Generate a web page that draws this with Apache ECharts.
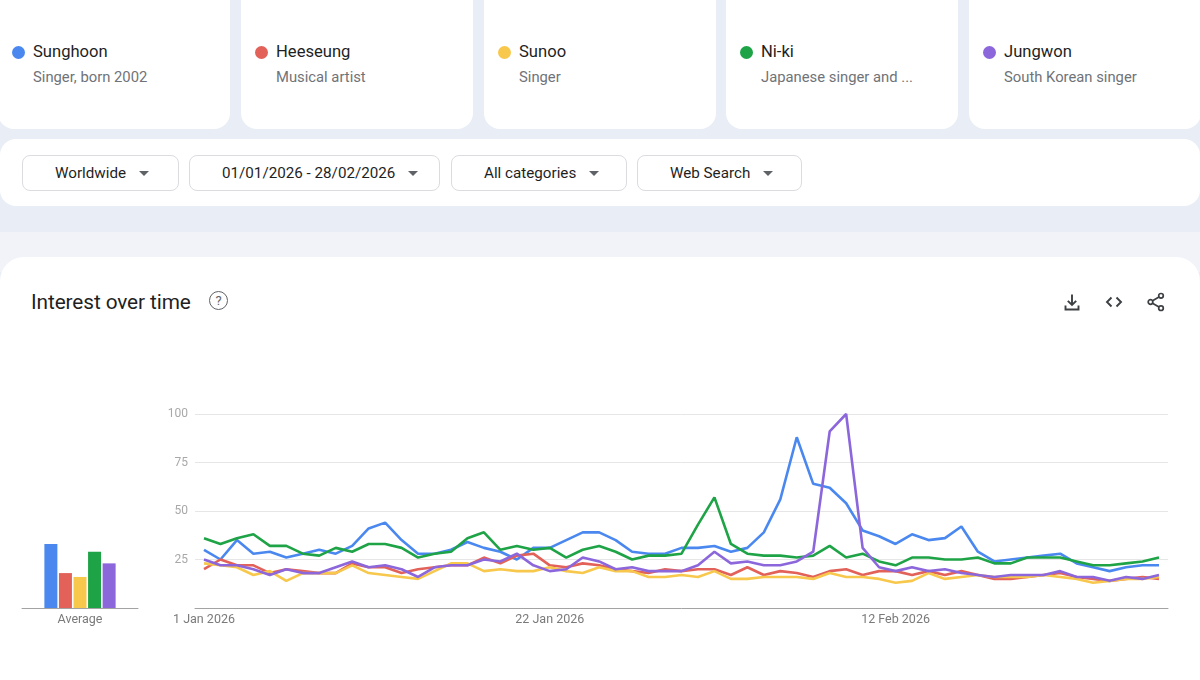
<!DOCTYPE html>
<html>
<head>
<meta charset="utf-8">
<script src="https://cdn.jsdelivr.net/npm/echarts@6/dist/echarts.min.js"></script>
<style>
  html,body{margin:0;padding:0;}
  body{width:1200px;height:680px;overflow:hidden;background:#e9eef6;position:relative;font-family:Roboto,"Noto Sans",Arial,sans-serif;}
  .card{position:absolute;top:-20px;height:149px;width:232px;background:#fff;border-radius:16px;}
  .dot{position:absolute;left:13.5px;top:65.5px;width:13px;height:13px;border-radius:50%;}
  .name{position:absolute;left:35px;top:61px;font-size:16.6px;line-height:22px;color:#1f1f1f;white-space:nowrap;}
  .sub{position:absolute;left:35px;top:87px;font-size:14.8px;line-height:20px;color:#6f7378;white-space:nowrap;}
  .panel{position:absolute;left:0;top:139px;width:1200px;height:67px;background:#fff;border-radius:16px;}
  .dd{position:absolute;top:155px;height:36px;box-sizing:border-box;border:1px solid #dadce0;border-radius:8px;background:#fff;display:flex;align-items:center;padding-left:32px;font-size:15.2px;color:#1f1f1f;white-space:nowrap;}
  .arr{display:inline-block;width:0;height:0;border-left:5px solid transparent;border-right:5px solid transparent;border-top:5px solid #5f6368;margin-left:13px;}
  .band2{position:absolute;left:0;top:232px;width:1200px;height:40px;background:#f1f3f8;}
  .main{position:absolute;left:0;top:257px;width:1200px;height:460px;background:#fff;border-radius:24px;}
  .title{position:absolute;left:31px;top:289px;font-size:20.8px;line-height:26px;color:#1f1f1f;letter-spacing:-0.1px;}
  .q{position:absolute;left:209px;top:291px;width:17px;height:17px;border:1.6px solid #5f6368;border-radius:50%;font-size:13px;line-height:17px;text-align:center;color:#5f6368;}
  .ic{position:absolute;top:292px;width:20px;height:20px;}
  #chart{position:absolute;left:0;top:380px;width:1200px;height:300px;}
</style>
</head>
<body>
<div class="card" style="left:-2px"><div class="dot" style="background:#4a88f0"></div><div class="name">Sunghoon</div><div class="sub">Singer, born 2002</div></div>
<div class="card" style="left:241px"><div class="dot" style="background:#e2625a"></div><div class="name">Heeseung</div><div class="sub">Musical artist</div></div>
<div class="card" style="left:484px"><div class="dot" style="background:#f7c84c"></div><div class="name">Sunoo</div><div class="sub">Singer</div></div>
<div class="card" style="left:726px"><div class="dot" style="background:#1fa347"></div><div class="name">Ni-ki</div><div class="sub">Japanese singer and ...</div></div>
<div class="card" style="left:969px"><div class="dot" style="background:#8c67dc"></div><div class="name">Jungwon</div><div class="sub">South Korean singer</div></div>

<div class="panel"></div>
<div class="dd" style="left:22px;width:157px">Worldwide<span class="arr"></span></div>
<div class="dd" style="left:189px;width:251px">01/01/2026 - 28/02/2026<span class="arr"></span></div>
<div class="dd" style="left:451px;width:176px">All categories<span class="arr"></span></div>
<div class="dd" style="left:637px;width:165px">Web Search<span class="arr"></span></div>

<div class="band2"></div>
<div class="main"></div>
<div class="title">Interest over time</div>
<div class="q">?</div>
<svg class="ic" style="left:1062px" viewBox="0 0 20 20" fill="none" stroke="#3c4043" stroke-width="1.9"><path d="M10 2.5v10.5M5.8 8.8L10 13l4.2-4.2M3.5 13.5v4h13v-4"/></svg>
<svg class="ic" style="left:1104px" viewBox="0 0 20 20" fill="none" stroke="#3c4043" stroke-width="1.9"><path d="M7.5 5.5L3 10l4.5 4.5M12.5 5.5L17 10l-4.5 4.5"/></svg>
<svg class="ic" style="left:1146px" viewBox="0 0 20 20" fill="none" stroke="#3c4043" stroke-width="1.7"><circle cx="15" cy="3.8" r="2.3"/><circle cx="4.5" cy="10" r="2.3"/><circle cx="15" cy="16.2" r="2.3"/><path d="M6.5 8.8L13 5M6.5 11.2L13 15"/></svg>

<div id="chart"></div>
<script>
// ---- data ----
const categories = [
  '1 Jan 2026','2 Jan 2026','3 Jan 2026','4 Jan 2026','5 Jan 2026','6 Jan 2026','7 Jan 2026','8 Jan 2026','9 Jan 2026','10 Jan 2026',
  '11 Jan 2026','12 Jan 2026','13 Jan 2026','14 Jan 2026','15 Jan 2026','16 Jan 2026','17 Jan 2026','18 Jan 2026','19 Jan 2026','20 Jan 2026',
  '21 Jan 2026','22 Jan 2026','23 Jan 2026','24 Jan 2026','25 Jan 2026','26 Jan 2026','27 Jan 2026','28 Jan 2026','29 Jan 2026','30 Jan 2026',
  '31 Jan 2026','1 Feb 2026','2 Feb 2026','3 Feb 2026','4 Feb 2026','5 Feb 2026','6 Feb 2026','7 Feb 2026','8 Feb 2026','9 Feb 2026',
  '10 Feb 2026','11 Feb 2026','12 Feb 2026','13 Feb 2026','14 Feb 2026','15 Feb 2026','16 Feb 2026','17 Feb 2026','18 Feb 2026','19 Feb 2026',
  '20 Feb 2026','21 Feb 2026','22 Feb 2026','23 Feb 2026','24 Feb 2026','25 Feb 2026','26 Feb 2026','27 Feb 2026','28 Feb 2026'
];
const tickLabels = ['1 Jan 2026','22 Jan 2026','12 Feb 2026'];
const yTicks = [0, 25, 50, 75, 100];

const sunghoon = [30,25,35,28,29,26,28,30,28,32,41,44,35,28,28,30,34,31,29,25,
                  31,31,35,39,39,35,29,28,28,31,31,32,29,31,39,56,88,64,62,54,
                  40,37,33,38,35,36,42,29,24,25,26,27,28,23,21,19,21,22,22];
const heeseung = [20,25,22,22,18,20,19,18,18,23,21,21,18,20,21,22,22,26,23,27,
                  28,22,21,23,22,20,19,18,20,19,20,20,17,21,17,19,18,16,19,20,
                  17,19,19,17,19,17,19,17,15,15,16,17,18,16,15,14,15,16,15];
const sunoo    = [23,22,21,17,19,14,18,18,18,22,18,17,16,15,19,23,23,19,20,19,
                  19,21,19,18,21,19,19,16,16,17,16,19,15,15,16,16,16,15,18,16,
                  16,15,13,14,18,15,16,17,16,16,16,17,16,15,13,14,15,15,16];
const niki     = [36,33,36,38,32,32,28,27,31,29,33,33,31,26,28,29,36,39,30,32,
                  30,31,26,30,32,29,25,27,27,28,43,57,33,28,27,27,26,27,32,26,
                  28,24,22,26,26,25,25,26,23,23,26,26,26,24,22,22,23,24,26];
const jungwon  = [25,22,22,20,17,20,18,18,21,24,21,22,20,16,21,22,22,25,24,28,
                  22,19,20,26,24,20,21,19,19,19,22,29,23,24,22,22,24,29,91,100,
                  31,21,19,21,19,20,18,17,16,17,17,17,19,16,16,14,16,15,17];

const seriesNames = ['Sunghoon','Heeseung','Sunoo','Ni-ki','Jungwon'];
const averages = [33, 18, 16, 29, 23];
const colors = ['#4a88f0','#e2625a','#f7c84c','#1fa347','#8c67dc'];

// ---- chart ----
const chart = echarts.init(document.getElementById('chart'));
const lineData = [sunghoon, heeseung, sunoo, niki, jungwon];
const series = [];
lineData.forEach((d, i) => {
  series.push({
    name: seriesNames[i], type: 'line', xAxisIndex: 1, yAxisIndex: 1,
    data: d, symbol: 'none', smooth: false,
    lineStyle: {width: 2.6, color: colors[i]}, itemStyle: {color: colors[i]},
    z: 3 + i
  });
});
averages.forEach((v, i) => {
  series.push({
    name: seriesNames[i], type: 'bar', xAxisIndex: 2, yAxisIndex: 2,
    data: [v], barWidth: 13, barGap: '12%',
    itemStyle: {color: colors[i]}
  });
});

const fontFam = 'Roboto, "Noto Sans", Arial, sans-serif';
chart.setOption({
  animation: false,
  grid: [
    {left: 195, right: 32, top: 34, bottom: 72},
    {left: 204, right: 41, top: 34, bottom: 72},
    {left: 22, right: 1062, top: 34, bottom: 72}
  ],
  xAxis: [
    {gridIndex: 0, type: 'value', min: 0, max: 1, show: true,
     axisLine: {show: true, lineStyle: {color: '#a3a3a3', width: 1}},
     axisTick: {show: false}, axisLabel: {show: false}, splitLine: {show: false}},
    {gridIndex: 1, type: 'category', boundaryGap: false, data: categories,
     axisLine: {show: false}, axisTick: {show: false}, splitLine: {show: false},
     axisLabel: {
       interval: (idx, val) => tickLabels.indexOf(val) >= 0,
       color: '#7a7a7a', fontSize: 12.5, margin: 5, fontFamily: fontFam
     }},
    {gridIndex: 2, type: 'category', data: ['Average'],
     axisLine: {show: true, lineStyle: {color: '#a3a3a3', width: 1}},
     axisTick: {show: false},
     axisLabel: {color: '#7a7a7a', fontSize: 12.5, margin: 5, fontFamily: fontFam}}
  ],
  yAxis: [
    {gridIndex: 0, type: 'value', min: yTicks[0], max: yTicks[yTicks.length - 1], interval: 25,
     axisLine: {show: false}, axisTick: {show: false},
     axisLabel: {color: '#a8a8a8', fontSize: 12, margin: 7, fontFamily: fontFam,
                 formatter: v => (v === 0 ? '' : String(v))},
     splitLine: {show: true, lineStyle: {color: '#e6e6e6', width: 1}}},
    {gridIndex: 1, type: 'value', min: 0, max: 100, show: false},
    {gridIndex: 2, type: 'value', min: 0, max: 100, show: false}
  ],
  series: series
});
</script>
</body>
</html>
